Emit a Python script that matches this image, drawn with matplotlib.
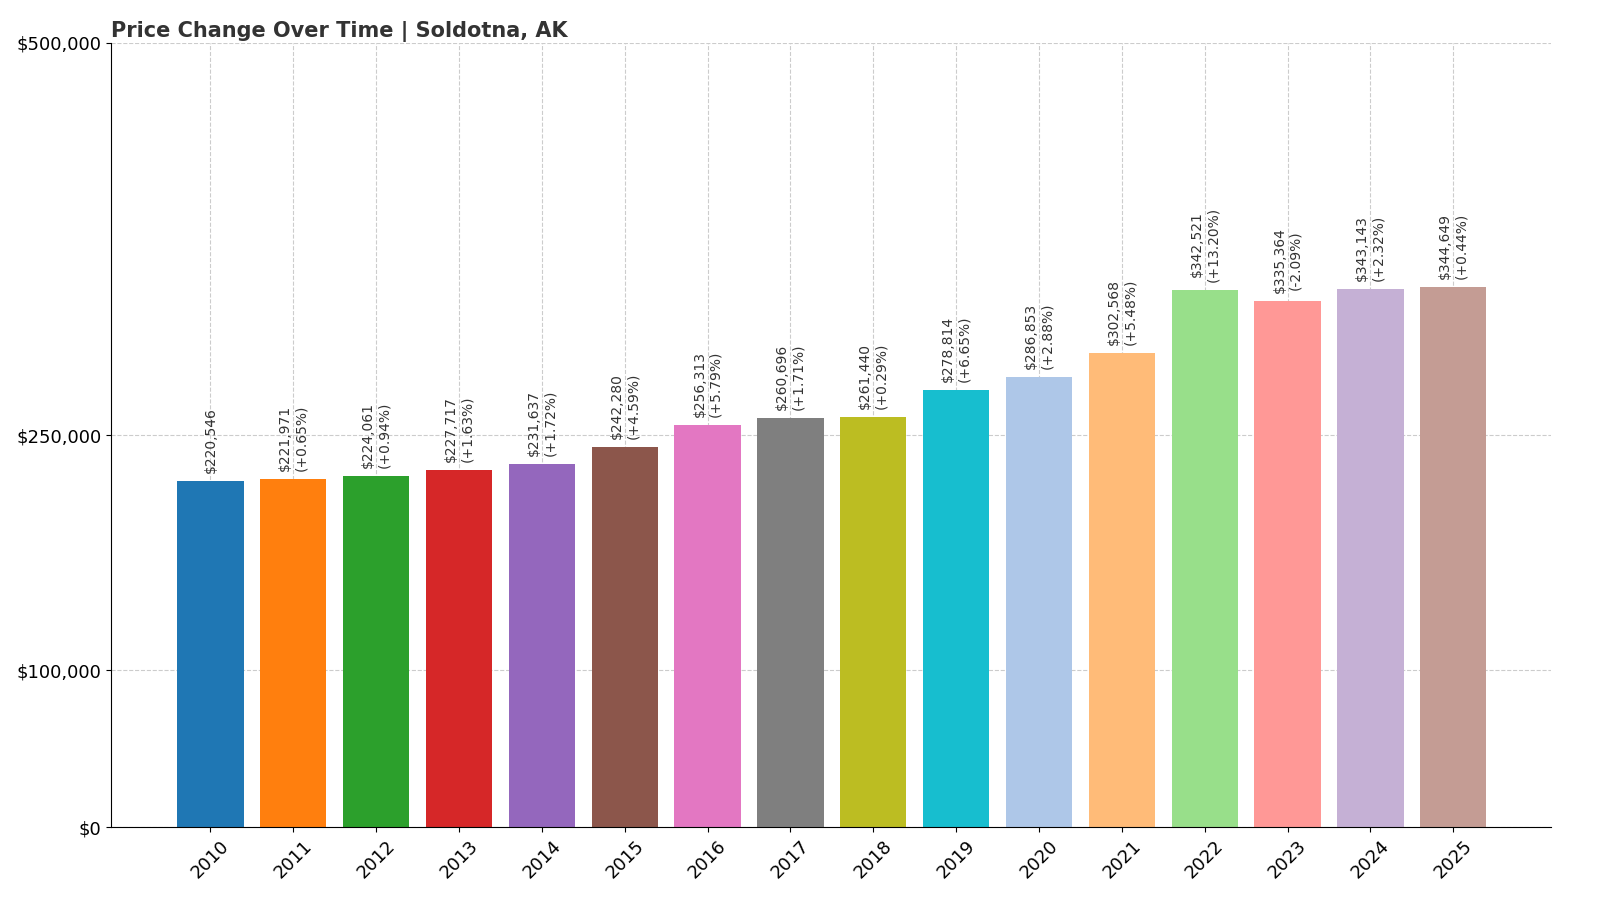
import matplotlib.pyplot as plt

years = [str(y) for y in range(2010, 2026)]
prices = [220546, 221971, 224061, 227717, 231637, 242280, 256313, 260696,
          261440, 278814, 286853, 302568, 342521, 335364, 343143, 344649]
changes = [None, 0.65, 0.94, 1.63, 1.72, 4.59, 5.79, 1.71,
           0.29, 6.65, 2.88, 5.48, 13.20, -2.09, 2.32, 0.44]
colors = ["#1f77b4", "#ff7f0e", "#2ca02c", "#d62728", "#9467bd", "#8c564b",
          "#e377c2", "#7f7f7f", "#bcbd22", "#17becf", "#aec7e8", "#ffbb78",
          "#98df8a", "#ff9896", "#c5b0d5", "#c49c94"]
yticks = [0, 100000, 250000, 500000]
ytick_labels = ["$0", "$100,000", "$250,000", "$500,000"]

fig = plt.figure(figsize=(16, 9.14), dpi=100)
ax = fig.add_axes([0.0694, 0.095, 0.9, 0.858])

x = range(len(years))
ax.bar(x, prices, color=colors, width=0.8, zorder=2)
for i, (p, c) in enumerate(zip(prices, changes)):
    label = f"${p:,}" if c is None else f"${p:,}\n({c:+.2f}%)"
    ax.text(i, p + 5000, label, rotation=90, ha="center", va="bottom",
            fontsize=10, color="#333333", linespacing=1.2)

ax.set_ylim(0, 500000)
ax.set_xlim(-1.2, 16.18)
ax.set_yticks(yticks)
ax.set_yticklabels(ytick_labels, fontsize=13)
ax.set_xticks(list(x))
ax.set_xticklabels(years, rotation=45, fontsize=13)
ax.grid(True, linestyle="--", color="#cccccc", linewidth=0.8, zorder=0)
ax.spines["top"].set_visible(False)
ax.spines["right"].set_visible(False)
ax.set_title("Price Change Over Time | Soldotna, AK", loc="left",
             fontsize=15, fontweight="bold", color="#333333", pad=4)

fig.savefig("out.png", dpi=100)
